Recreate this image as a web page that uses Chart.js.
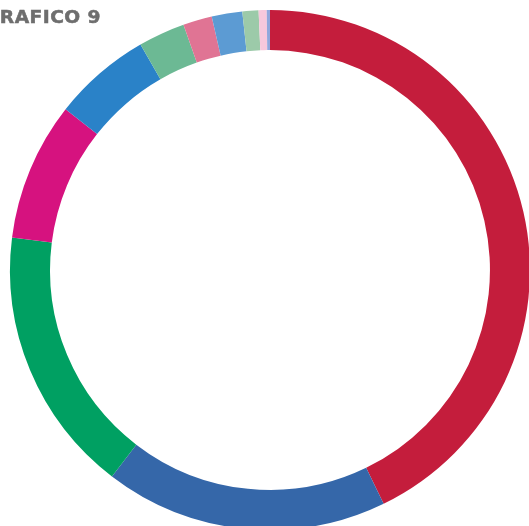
<!DOCTYPE html>
<html>
<head>
<meta charset="utf-8">
<script src="https://cdn.jsdelivr.net/npm/chart.js@4/dist/chart.umd.min.js"></script>
<style>
  html, body { margin: 0; padding: 0; background: #fff; overflow: hidden; width: 529px; height: 526px; }
  #wrap { position: relative; width: 529px; height: 526px; overflow: hidden; }
  #chart { position: absolute; left: 0; top: 0; }
  #title {
    position: absolute; left: -16px; top: 7px;
    font-family: "DejaVu Sans", sans-serif; font-weight: bold; font-size: 17px;
    letter-spacing: 0.4px; color: #6e6e6e; white-space: nowrap;
    transform: scaleX(1.1); transform-origin: 0 0;
    -webkit-text-stroke: 0.5px #6e6e6e;
  }
</style>
</head>
<body>
<div id="wrap">
  <canvas id="chart" width="540" height="540"></canvas>
  <div id="title">GRAFICO 9</div>
</div>
<script>
// slices, clockwise from the top
const labels = ['A', 'B', 'C', 'D', 'E', 'F', 'G', 'H', 'I', 'J', 'K'];
const values = [42.8, 17.6, 16.6, 8.6, 6.1, 2.9, 1.8, 1.9, 1.0, 0.5, 0.2];
const colors = ['#c41d3c', '#3567a9', '#00a062', '#d6127f', '#2a82c8', '#6cb994',
                '#e07494', '#5c9bd3', '#9ccaa9', '#f6c8dc', '#8fa7dc'];

const ctx = document.getElementById('chart').getContext('2d');
new Chart(ctx, {
  type: 'doughnut',
  data: {
    labels,
    datasets: [{ data: values, backgroundColor: colors, borderWidth: 0 }]
  },
  options: {
    responsive: false,
    animation: false,
    cutout: '84.6%',
    layout: { padding: 10 },
    plugins: { legend: { display: false }, tooltip: { enabled: false } }
  }
});
</script>
</body>
</html>
